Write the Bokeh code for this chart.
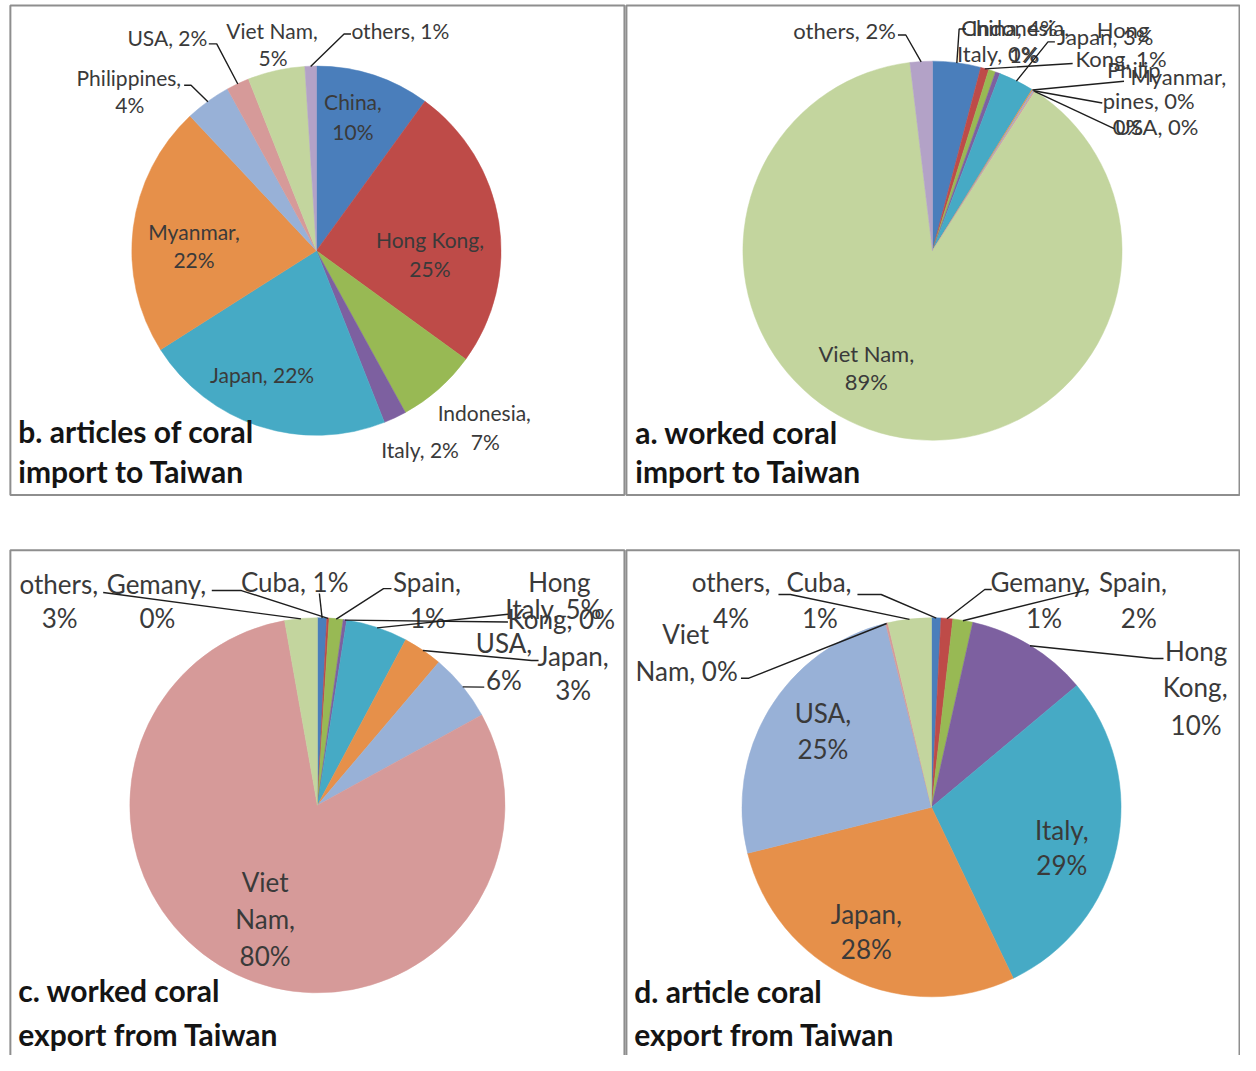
import numpy as np
from bokeh.plotting import figure
from bokeh.models import ColumnDataSource, Range1d
from bokeh.embed import file_html
from bokeh.resources import INLINE
from bokeh.core.properties import value

# ---------------- data ----------------
palette = ["#4A7EBB", "#BE4B48", "#98B954", "#7D60A0", "#46AAC5",
           "#E6904A", "#98B1D7", "#D69A99", "#C3D59E", "#B3A2C7"]

b_names = ["China", "Hong Kong", "Indonesia", "Italy", "Japan", "Myanmar",
           "Philippines", "USA", "Viet Nam", "others"]
b_values = [10, 25, 7, 2, 22, 22, 4, 2, 5, 1]

a_names = ["China", "Hong Kong", "Indonesia", "Italy", "Japan", "Myanmar",
           "Philippines", "USA", "Viet Nam", "others"]
a_values = [4.1, 0.7, 0.6, 0.4, 3.0, 0.1, 0.1, 0.1, 89.0, 1.9]

c_names = ["Cuba", "Gemany", "Spain", "Hong Kong", "Italy", "Japan", "USA",
           "Viet Nam", "others"]
c_values = [0.8, 0.2, 1.2, 0.3, 5.3, 3.4, 5.8, 80.2, 2.8]

d_names = ["Cuba", "Gemany", "Spain", "Hong Kong", "Italy", "Japan", "USA",
           "Viet Nam", "others"]
d_values = [0.8, 1.0, 1.7, 10.4, 29.0, 28.2, 25.0, 0.2, 3.7]

titles = {
    "b": ["b. articles of coral", "import to Taiwan"],
    "a": ["a. worked coral", "import to Taiwan"],
    "c": ["c. worked coral", "export from Taiwan"],
    "d": ["d. article coral", "export from Taiwan"],
}

# ---------------- layout (reference pixel coordinates) ----------------
N = lambda n, p: f"{n}, {p}%"
NC = lambda n, p: f"{n},"
P = lambda n, p: f"{p}%"
W0 = lambda n, p: n.split()[0]
W1C = lambda n, p: f"{n.split()[1]},"
W1P = lambda n, p: f"{n.split()[1]}, {p}%"

b_layout = dict(cx=320, cy=254, r=187, fs=21, labels={
    0: ([(NC, 357, 103), (P, 357, 133)], None),
    1: ([(NC, 435, 243), (P, 435, 272)], None),
    2: ([(NC, 490, 418), (P, 491, 448)], None),
    3: ([(N, 425, 456)], None),
    4: ([(N, 265, 380)], None),
    5: ([(NC, 196, 234), (P, 196, 263)], None),
    6: ([(NC, 130, 78), (P, 131, 106)], [(186, 86), (193, 86)]),
    7: ([(N, 169, 38)], [(211, 44), (219, 44)]),
    8: ([(NC, 275, 30), (P, 276, 58)], None),
    9: ([(N, 405, 30)], [(355, 34), (348, 34)]),
}, title_x=18, title_y=[437, 478])

a_layout = dict(cx=944, cy=254, r=192, fs=22, labels={
    0: ([(N, 1022, 27)], [(978, 29), (971, 29)]),
    1: ([(W0, 1137, 29), (W1P, 1135, 59)], [(1086, 64)]),
    2: ([(NC, 1033, 27), (P, 1037, 55)], None),
    3: ([(N, 1010, 54)], None),
    4: ([(N, 1119, 37)], [(1068, 42), (1061, 42)]),
    5: ([(NC, 1193, 77), (P, 1142, 128)], [(1138, 82)]),
    6: ([(lambda n, p: n[:6], 1148, 70), (lambda n, p: f"{n[6:]}, {p}%", 1163, 102)],
        [(1116, 104)]),
    7: ([(N, 1171, 128)], [(1128, 130)]),
    8: ([(NC, 877, 358), (P, 877, 387)], None),
    9: ([(N, 855, 30)], [(909, 35), (917, 35)]),
}, title_x=643, title_y=[438, 478])

c_layout = dict(cx=321, cy=817, r=190, fs=26, labels={
    0: ([(N, 298, 590)], [(323, 602)]),
    1: ([(NC, 158, 592), (P, 159, 627)], [(214, 599), (244, 599)]),
    2: ([(NC, 432, 590), (P, 433, 627)], [(396, 597), (388, 597)]),
    3: ([(W0, 566, 590), (W1P, 568, 628)], [(514, 631)]),
    4: ([(N, 560, 618)], [(514, 623)]),
    5: ([(NC, 580, 665), (P, 580, 700)], [(545, 670), (538, 670)]),
    6: ([(NC, 510, 652), (P, 510, 690)], [(490, 697)]),
    7: ([(W0, 268, 895), (W1C, 268, 932), (P, 268, 970)], None),
    8: ([(NC, 59, 592), (P, 60, 627)], [(104, 601)]),
}, title_x=18, title_y=[1005, 1049])

d_layout = dict(cx=943, cy=819, r=192, fs=26, labels={
    0: ([(NC, 829, 590), (P, 830, 627)], [(868, 603), (892, 603)]),
    1: ([(NC, 1053, 590), (P, 1057, 627)], [(1004, 598), (997, 598)]),
    2: ([(NC, 1147, 590), (P, 1153, 627)], [(1102, 598)]),
    3: ([(W0, 1211, 660), (W1C, 1210, 697), (P, 1211, 735)], [(1178, 668), (1168, 668)]),
    4: ([(NC, 1075, 842), (P, 1075, 878)], None),
    5: ([(NC, 877, 927), (P, 877, 963)], None),
    6: ([(NC, 833, 723), (P, 833, 760)], None),
    7: ([(W0, 694, 643), (W1P, 695, 681)], [(750, 688), (758, 688)]),
    8: ([(NC, 740, 590), (P, 740, 627)], [(788, 603), (800, 603)]),
}, title_x=642, title_y=[1006, 1049])

frames = {"b": (10, 632, 5, 502), "a": (634, 1255, 5, 502),
          "c": (10, 632, 558, 1080), "d": (634, 1255, 558, 1080)}

FONT = value("Lato")
REF_W, REF_H = 1256, 1071

p = figure(width=1240, height=1055, x_range=Range1d(0, REF_W),
           y_range=Range1d(-REF_H, 0), output_backend="svg",
           toolbar_location=None, min_border=0)
p.axis.visible = False
p.grid.visible = False
p.outline_line_color = None
p.background_fill_color = "white"
p.border_fill_color = "white"

# panel frames
fl, fr, ft, fb = zip(*frames.values())
p.quad(left=list(fl), right=list(fr), top=[-t for t in ft], bottom=[-b for b in fb],
       fill_color=None, line_color="#8e8e8e", line_width=2)


def draw_panel(names, vals, lay, title):
    v = np.asarray(vals, float)
    frac = v / v.sum()
    cum = np.concatenate([[0.0], np.cumsum(frac)])
    start = np.pi / 2 - 2 * np.pi * cum[:-1]
    end = np.pi / 2 - 2 * np.pi * cum[1:]
    cx, cy, r = lay["cx"], -lay["cy"], lay["r"]
    src = ColumnDataSource(dict(start=start, end=end,
                                color=palette[:len(names)], name=names))
    p.wedge(x=cx, y=cy, radius=r, start_angle="start", end_angle="end",
            direction="clock", fill_color="color", line_color="color",
            line_width=0.5, source=src)
    mid = (start + end) / 2
    ex = cx + r * np.cos(mid)
    ey = cy + r * np.sin(mid)

    tx, ty, tt = [], [], []
    lx, ly = [], []
    for i, (lines, leader) in lay["labels"].items():
        pct = int(round(v[i]))
        for fn, x, y in lines:
            tx.append(x); ty.append(-y); tt.append(fn(names[i], pct))
        if leader:
            lx.append([q[0] for q in leader] + [ex[i]])
            ly.append([-q[1] for q in leader] + [ey[i]])
    p.text(x=tx, y=ty, text=tt, text_align="center", text_baseline="middle",
           text_font=FONT, text_font_size=f"{lay['fs']}px", text_color="#3a3a3a")
    if lx:
        p.multi_line(xs=lx, ys=ly, line_color="#1e1e1e", line_width=1.4)
    p.text(x=[lay["title_x"]] * 2, y=[-y for y in lay["title_y"]], text=title,
           text_align="left", text_baseline="middle", text_font=FONT,
           text_font_size="30px", text_font_style="bold", text_color="#141414")


draw_panel(b_names, b_values, b_layout, titles["b"])
draw_panel(a_names, a_values, a_layout, titles["a"])
draw_panel(c_names, c_values, c_layout, titles["c"])
draw_panel(d_names, d_values, d_layout, titles["d"])

open("out.html", "w").write(file_html(p, INLINE))
